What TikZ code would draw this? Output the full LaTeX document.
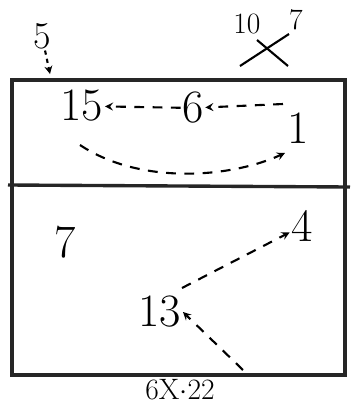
\documentclass[tikz,border=0pt]{standalone}
\usepackage{tikz}
\usetikzlibrary{arrows}
\tikzstyle{player} = [inner sep=1pt, font=\fontsize{33}{38}\selectfont]
\tikzstyle{smallnum} = [inner sep=1pt, font=\fontsize{21}{25}\selectfont]
\tikzstyle{court} = [line width=2.4pt, black!85]
\tikzstyle{move} = [line width=1.5pt, dash pattern=on 7pt off 6pt, ->, >=stealth]

\begin{document}
\begin{tikzpicture}[x=0.025cm, y=-0.025cm]
    \useasboundingbox (0,0) rectangle (352,410);
    % court
    \draw [court] (12,80) rectangle (345,375);
    \draw [court] (8,185) -- (350,187);

    % outside the court
    \node (five) [smallnum, font=\fontsize{27}{30}\selectfont] at (42,36) {5};
    \coordinate (fivein) at (50,74);
    \draw [line width=1.5pt, ->, >=stealth, dash pattern=on 3pt off 3pt] (five) -- (fivein);
    \node (ten) [smallnum] at (247,24) {10};
    \node (seven) [smallnum] at (296,20) {7};
    \draw [line width=1.5pt] (240,66) -- (289,34);
    \draw [line width=1.5pt] (257,40) -- (288,66);

    % front row
    \node (p15) [player] at (82,106) {15};
    \node (p6) [player] at (193,108) {6};
    \node (p1) [player] at (298,128) {1};
    \coordinate (start6) at (283,104);
    \coordinate (startcurve) at (80,145);
    \draw [move] (start6) -- (p6);
    \draw [move] (p6) -- (p15);
    \draw [move] (startcurve) .. controls (140,185) and (230,178) .. (285,153);

    % back row
    \node (p7) [player] at (65,242) {7};
    \node (p4) [player] at (302,226) {4};
    \node (p13) [player] at (160,312) {13};
    \coordinate (start4) at (182,288);
    \coordinate (start13) at (243,370);
    \draw [move] (start4) -- (p4);
    \draw [move] (start13) -- (p13.east);

    \node (score) [smallnum] at (180,390) {6X$\cdot$22};
\end{tikzpicture}
\end{document}
